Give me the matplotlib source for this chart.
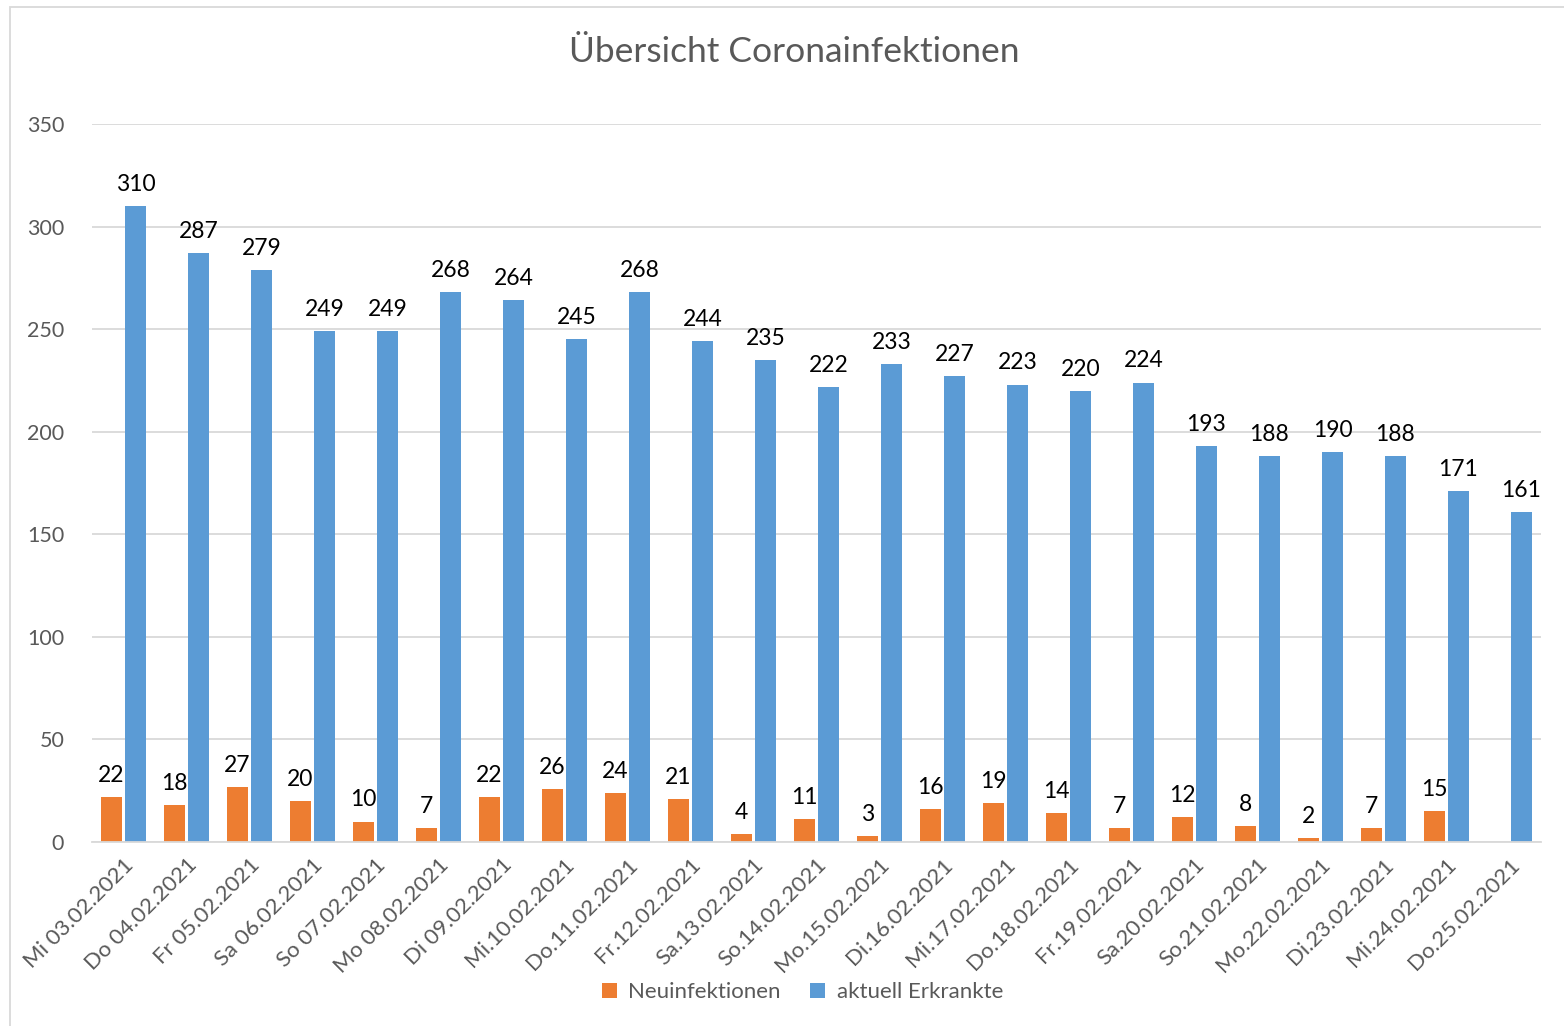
import numpy as np
import matplotlib.pyplot as plt
from matplotlib.patches import Rectangle

plt.rcParams['font.family'] = ['Lato', 'DejaVu Sans']

days = ["Mi 03.02.2021", "Do 04.02.2021", "Fr 05.02.2021", "Sa 06.02.2021",
        "So 07.02.2021", "Mo 08.02.2021", "Di 09.02.2021", "Mi.10.02.2021",
        "Do.11.02.2021", "Fr.12.02.2021", "Sa.13.02.2021", "So.14.02.2021",
        "Mo.15.02.2021", "Di.16.02.2021", "Mi.17.02.2021", "Do.18.02.2021",
        "Fr.19.02.2021", "Sa.20.02.2021", "So.21.02.2021", "Mo.22.02.2021",
        "Di.23.02.2021", "Mi.24.02.2021", "Do.25.02.2021"]
neuinfektionen = [22, 18, 27, 20, 10, 7, 22, 26, 24, 21, 4, 11, 3, 16, 19, 14,
                  7, 12, 8, 2, 7, 15, np.nan]
erkrankte = [310, 287, 279, 249, 249, 268, 264, 245, 268, 244, 235, 222, 233,
             227, 223, 220, 224, 193, 188, 190, 188, 171, 161]

orange = "#ED7D31"
blue = "#5B9BD5"
grey = "#595959"

fig = plt.figure(figsize=(15.64, 10.26), dpi=100)
ax = fig.add_axes([0.0588, 0.1793, 0.9265, 0.6998])

x = np.arange(len(days))
w = 0.32
b1 = ax.bar(x - 0.19, neuinfektionen, w, color=orange, label="Neuinfektionen")
b2 = ax.bar(x + 0.19, erkrankte, w, color=blue, label="aktuell Erkrankte")

for bars, vals in ((b1, neuinfektionen), (b2, erkrankte)):
    for rect, v in zip(bars, vals):
        if np.isnan(v):
            continue
        ax.annotate(f"{int(v)}", (rect.get_x() + rect.get_width() / 2, v),
                    xytext=(0, 8), textcoords="offset points",
                    ha="center", va="bottom", fontsize=16.5, color="black")

ax.set_xlim(-0.5, len(days) - 0.5)
ax.set_ylim(0, 350)
ax.set_yticks(range(0, 351, 50))
ax.yaxis.grid(True, color="#D9D9D9", linewidth=1.3)
ax.set_axisbelow(True)
for s in ["top", "right", "left"]:
    ax.spines[s].set_visible(False)
ax.spines["bottom"].set_color("#D9D9D9")
ax.spines["bottom"].set_linewidth(1.3)
ax.tick_params(length=0, colors=grey, labelsize=15.5)
ax.tick_params(axis="y", pad=20)
ax.set_xticks(x)
ax.set_xticklabels(days, rotation=45, ha="right", rotation_mode="anchor",
                   fontsize=16)
ax.tick_params(axis="x", pad=9)

fig.text(0.508, 0.949, "Übersicht Coronainfektionen", ha="center", va="center",
         fontsize=25.5, color=grey)

fig.legend(loc="center", bbox_to_anchor=(0.513, 0.033), ncol=2, frameon=False,
           fontsize=16, labelcolor=grey, handlelength=0.7, handleheight=0.7,
           columnspacing=1.3, handletextpad=0.5)

fig.patches.append(Rectangle((10 / 1564, -0.01), 1.1, 1 - 7 / 1026 + 0.01,
                             transform=fig.transFigure, fill=False,
                             edgecolor="#D9D9D9", linewidth=1.3))

fig.savefig("out.png", dpi=100)
